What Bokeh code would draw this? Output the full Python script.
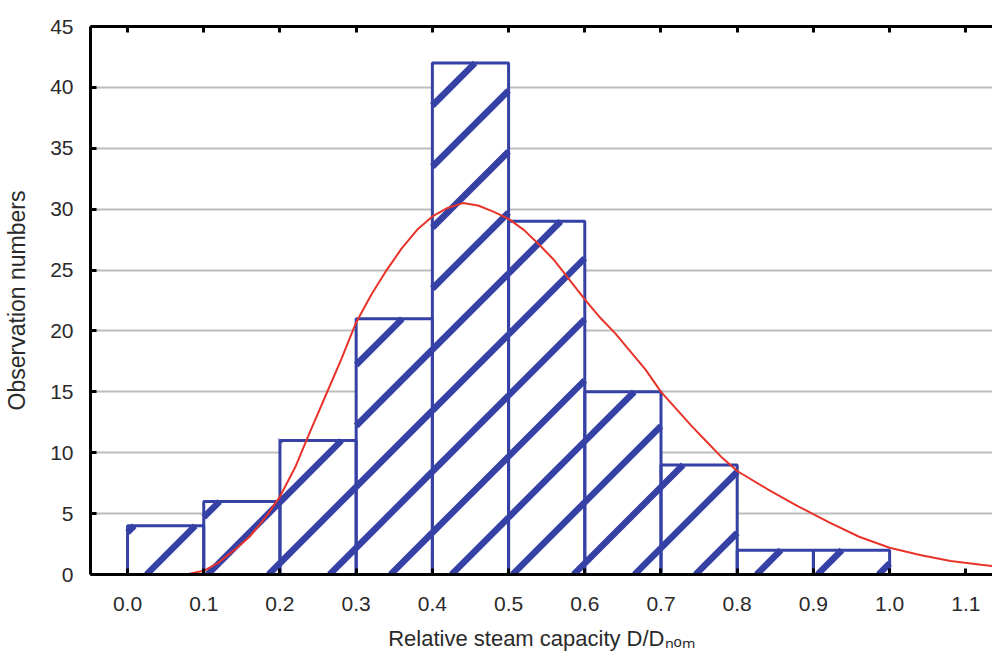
import math
from bokeh.plotting import figure
from bokeh.models import Range1d, FixedTicker, LinearAxis, PrintfTickFormatter, CustomJSTickFormatter
from bokeh.embed import file_html
from bokeh.resources import INLINE

# ---- data ----
bin_left = [0.0, 0.1, 0.2, 0.3, 0.4, 0.5, 0.6, 0.7, 0.8, 0.9]
bin_right = [0.1, 0.2, 0.3, 0.4, 0.5, 0.6, 0.7, 0.8, 0.9, 1.0]
counts = [4, 6, 11, 21, 42, 29, 15, 9, 2, 2]

curve_x = [0.06, 0.08, 0.10, 0.12, 0.14, 0.16, 0.18, 0.20, 0.22, 0.24, 0.26, 0.28,
           0.30, 0.32, 0.34, 0.36, 0.38, 0.40, 0.42, 0.44, 0.46, 0.48, 0.50, 0.52,
           0.54, 0.56, 0.58, 0.60, 0.62, 0.64, 0.66, 0.68, 0.70, 0.72, 0.74, 0.76,
           0.78, 0.80, 0.84, 0.88, 0.92, 0.96, 1.00, 1.04, 1.08, 1.12, 1.15]
curve_y = [0.0, 0.05, 0.3, 1.0, 2.0, 3.1, 4.6, 6.4, 8.8, 11.8, 14.7, 17.6,
           20.7, 23.0, 25.0, 26.8, 28.3, 29.4, 30.1, 30.5, 30.3, 29.8, 29.2, 28.3,
           27.1, 25.8, 24.2, 22.6, 21.1, 19.8, 18.3, 16.8, 15.0, 13.6, 12.2, 10.9,
           9.6, 8.5, 7.0, 5.6, 4.3, 3.1, 2.2, 1.6, 1.1, 0.8, 0.6]

x_ticks = [0.0, 0.1, 0.2, 0.3, 0.4, 0.5, 0.6, 0.7, 0.8, 0.9, 1.0, 1.1]
y_ticks = [0, 5, 10, 15, 20, 25, 30, 35, 40, 45]
grid_ticks = [5, 10, 15, 20, 25, 30, 35, 40]

x_label = "Relative steam capacity D/D\u2099\u2092\u2098"
y_label = "Observation numbers"

FONT = "Liberation Sans"
BLUE = "#3641A6"
RED = "#E8332B"
TXT = "#2a2a2a"

# ---- layout (pixels) ----
W, H = 992, 657
B_LEFT, B_RIGHT, B_TOP, B_BOTTOM = 90, 0, 26, 83
X0, X1 = -0.0486, 1.135
Y0, Y1 = 0, 45

p = figure(width=W, height=H, output_backend="svg", toolbar_location=None,
           x_range=Range1d(X0, X1), y_range=Range1d(Y0, Y1),
           min_border_left=B_LEFT, min_border_right=B_RIGHT,
           min_border_top=B_TOP, min_border_bottom=B_BOTTOM,
           background_fill_color="white", border_fill_color="white")
p.outline_line_color = None

# grid
p.xgrid.visible = False
p.ygrid.ticker = FixedTicker(ticks=grid_ticks)
p.ygrid.grid_line_color = "#bdbdbd"
p.ygrid.grid_line_width = 2

# bars (white fill)
p.quad(left=bin_left, right=bin_right, bottom=0, top=counts,
       fill_color="white", line_color=None)

# diagonal hatch stripes (45 deg on screen, 61 px period), clipped to each bar
sx = (W - B_LEFT - B_RIGHT) / (X1 - X0)   # px per x unit
sy = (H - B_TOP - B_BOTTOM) / (Y1 - Y0)   # px per y unit
period = 61.0
phase = 19.0
hx, hy = [], []
for l, r, t in zip(bin_left, bin_right, counts):
    L, R, T = l * sx, r * sx, t * sy
    k0 = math.floor((L - T - phase) / period) - 1
    k1 = math.ceil((R - phase) / period) + 1
    for k in range(k0, k1 + 1):
        a = phase + k * period          # stripe: Y = X - a
        xe = max(L, a)
        xx = min(R, a + T)
        if xx - xe > 0.5:
            hx.append([xe / sx, xx / sx])
            hy.append([(xe - a) / sy, (xx - a) / sy])
p.multi_line(hx, hy, line_color=BLUE, line_width=6.5, line_cap="butt")

# bar outlines
p.quad(left=bin_left, right=bin_right, bottom=0, top=counts,
       fill_color=None, line_color=BLUE, line_width=3)

# fitted curve
p.line(curve_x, curve_y, line_color=RED, line_width=2)

# axes
for ax in (p.xaxis[0], p.yaxis[0]):
    ax.axis_line_color = "black"
    ax.axis_line_width = 3
    ax.major_tick_in = 6
    ax.major_tick_out = 0
    ax.major_tick_line_width = 3
    ax.major_tick_line_color = "black"
    ax.minor_tick_line_color = None
    ax.major_label_text_font = FONT
    ax.major_label_text_font_size = "21px"
    ax.major_label_text_color = TXT
    ax.axis_label_text_font = FONT
    ax.axis_label_text_font_style = "normal"
    ax.axis_label_text_color = TXT

p.xaxis[0].ticker = FixedTicker(ticks=x_ticks)
p.xaxis[0].formatter = PrintfTickFormatter(format="%.1f")
p.xaxis[0].major_label_standoff = 22
p.xaxis[0].axis_label = x_label
p.xaxis[0].axis_label_text_font_size = "22px"
p.xaxis[0].axis_label_standoff = 12

p.yaxis[0].ticker = FixedTicker(ticks=y_ticks)
p.yaxis[0].major_label_standoff = 17
p.yaxis[0].axis_label = y_label
p.yaxis[0].axis_label_text_font_size = "23px"
p.yaxis[0].axis_label_standoff = 17

top = LinearAxis(ticker=FixedTicker(ticks=x_ticks),
                 formatter=CustomJSTickFormatter(code="return ''"))
top.axis_line_color = "black"
top.axis_line_width = 3
top.major_tick_in = 6
top.major_tick_out = 0
top.major_tick_line_width = 3
top.minor_tick_line_color = None
top.major_label_standoff = 0
p.add_layout(top, "above")

open("out.html", "w").write(file_html(p, INLINE))
